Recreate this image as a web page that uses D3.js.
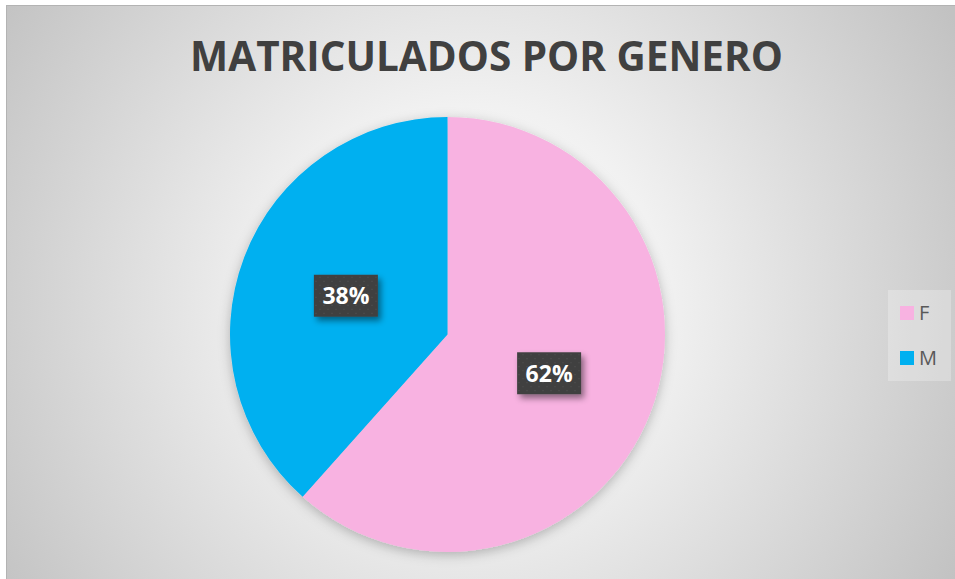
<!DOCTYPE html>
<html>
<head>
<meta charset="utf-8">
<script src="https://cdn.jsdelivr.net/npm/d3@7"></script>
<style>
  html, body { margin: 0; padding: 0; background: #fff; overflow: hidden; }
  svg { display: block; }
</style>
</head>
<body>
<div id="chart"></div>
<script>
// data
const categories = ["F", "M"];
const shares = [61.6, 38.4];
const colors = ["#F8B2E1", "#00B0F0"];
const title = "MATRICULADOS POR GENERO";

const width = 955, height = 579;
const cx = 447.5, cy = 334.5, radius = 217.5;

const svg = d3.select("#chart").append("svg")
    .attr("width", width)
    .attr("height", height);

const defs = svg.append("defs");

// background gradient, light centre, grey edges
const bg = defs.append("radialGradient")
    .attr("id", "bg")
    .attr("gradientUnits", "userSpaceOnUse")
    .attr("cx", 470).attr("cy", 300).attr("r", 560);
bg.append("stop").attr("offset", "0%").attr("stop-color", "#ffffff");
bg.append("stop").attr("offset", "35%").attr("stop-color", "#f1f1f1");
bg.append("stop").attr("offset", "100%").attr("stop-color", "#c2c2c2");

const pieShadow = defs.append("filter").attr("id", "pieShadow")
    .attr("x", "-20%").attr("y", "-20%").attr("width", "140%").attr("height", "140%");
pieShadow.append("feDropShadow")
    .attr("dx", 0).attr("dy", 3).attr("stdDeviation", 6)
    .attr("flood-color", "#000").attr("flood-opacity", 0.25);

const boxShadow = defs.append("filter").attr("id", "boxShadow")
    .attr("x", "-30%").attr("y", "-30%").attr("width", "170%").attr("height", "170%");
boxShadow.append("feDropShadow")
    .attr("dx", 3).attr("dy", 4).attr("stdDeviation", 3)
    .attr("flood-color", "#000").attr("flood-opacity", 0.45);

// dotted texture on the label boxes
const pat = defs.append("pattern").attr("id", "dots")
    .attr("patternUnits", "userSpaceOnUse").attr("width", 8).attr("height", 8);
pat.append("rect").attr("width", 8).attr("height", 8).attr("fill", "#404040");
pat.append("rect").attr("x", 1).attr("y", 1).attr("width", 2).attr("height", 1).attr("fill", "#4d4d4d");
pat.append("rect").attr("x", 5).attr("y", 5).attr("width", 2).attr("height", 1).attr("fill", "#4a4a4a");

svg.append("rect").attr("width", width).attr("height", height).attr("fill", "#fff");
svg.append("rect")
    .attr("x", 6.5).attr("y", 5.5)
    .attr("width", 1000).attr("height", 1000)
    .attr("fill", "url(#bg)")
    .attr("stroke", "#b3b3b3").attr("stroke-width", 1);

// title
const titleText = svg.append("text")
    .attr("x", 486.5).attr("y", 71)
    .attr("text-anchor", "middle")
    .attr("font-family", "'Open Sans', 'Liberation Sans', sans-serif")
    .attr("font-weight", "bold")
    .attr("font-size", 40)
    .attr("fill", "#404040")
    .text(title);
// fit the title to the width it has in the reference
const tw = titleText.node().getComputedTextLength();
titleText.attr("font-size", 40 * 593 / tw);

// pie
const data = categories.map((c, i) => ({ cat: c, value: shares[i], color: colors[i] }));
const pie = d3.pie().value(d => d.value).sort(null);
const arc = d3.arc().innerRadius(0).outerRadius(radius);
const arcs = pie(data);

const g = svg.append("g").attr("transform", `translate(${cx},${cy})`);
g.append("g").attr("filter", "url(#pieShadow)")
  .selectAll("path")
  .data(arcs)
  .enter()
  .append("path")
    .attr("d", arc)
    .attr("fill", d => d.data.color);

// data labels
const total = d3.sum(shares);
const fmt = d3.format(".0%");
const labels = g.selectAll("g.label")
  .data(arcs)
  .enter()
  .append("g")
    .attr("class", "label")
    .attr("transform", d => `translate(${arc.centroid(d)})`);
labels.append("rect")
    .attr("x", -32).attr("y", -21)
    .attr("width", 64).attr("height", 42)
    .attr("fill", "url(#dots)")
    .attr("filter", "url(#boxShadow)");
labels.append("text")
    .attr("text-anchor", "middle")
    .attr("dy", "0.36em")
    .attr("font-family", "'Open Sans', 'Liberation Sans', sans-serif")
    .attr("font-weight", "bold")
    .attr("font-size", 23)
    .attr("fill", "#ffffff")
    .text(d => fmt(d.data.value / total));

// legend
const legend = svg.append("g");
legend.append("rect")
    .attr("x", 888).attr("y", 290)
    .attr("width", 63).attr("height", 91)
    .attr("fill", "#ffffff").attr("fill-opacity", 0.25);
const ly = d3.scalePoint().domain(categories).range([313, 358]);
const items = legend.selectAll("g.item")
  .data(data)
  .enter()
  .append("g")
    .attr("class", "item")
    .attr("transform", d => `translate(900,${ly(d.cat)})`);
items.append("rect")
    .attr("x", 0).attr("y", -7)
    .attr("width", 14).attr("height", 14)
    .attr("fill", d => d.color);
items.append("text")
    .attr("x", 19).attr("dy", "0.36em")
    .attr("font-family", "'Open Sans', 'Liberation Sans', sans-serif")
    .attr("font-size", 20)
    .attr("fill", "#595959")
    .text(d => d.cat);
</script>
</body>
</html>
